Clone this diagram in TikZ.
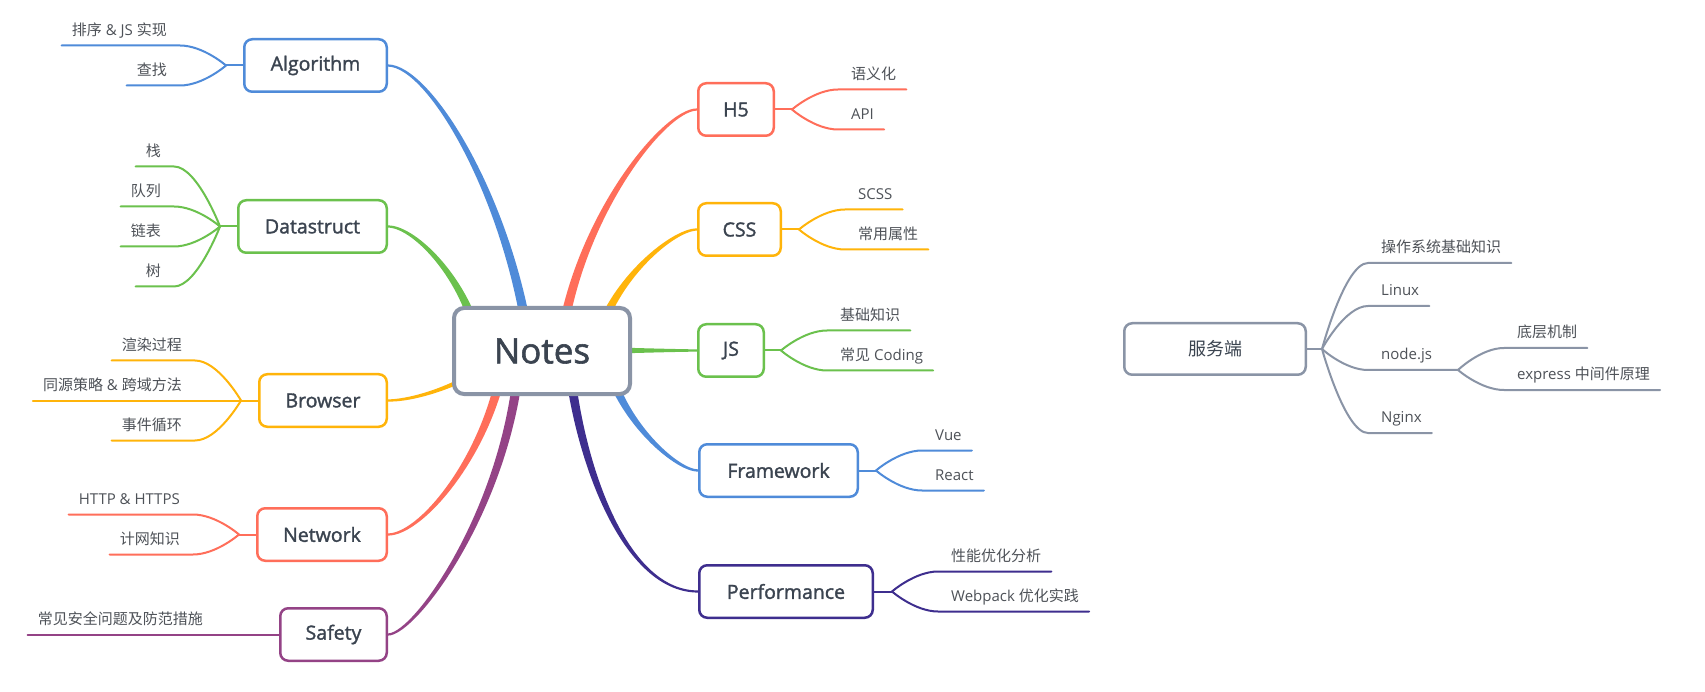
\documentclass[tikz,border=0pt]{standalone}
\usepackage{fontspec}
\setmainfont{Open Sans}
\newfontfamily\zh{Noto Sans CJK SC}
\newfontfamily\semib{Open Sans}[FakeBold=1.6]
\usetikzlibrary{calc}
\pgfdeclarelayer{back}
\pgfdeclarelayer{bg}
\pgfsetlayers{back,bg,main}
\definecolor{cblue}{HTML}{4F8BD9}
\definecolor{cgreen}{HTML}{6BC14D}
\definecolor{corange}{HTML}{FFB40A}
\definecolor{cred}{HTML}{FF6E5A}
\definecolor{cpurple}{HTML}{944386}
\definecolor{cindigo}{HTML}{3E2E8E}
\definecolor{cgray}{HTML}{8A94A6}
\definecolor{textdark}{HTML}{3B4450}
\definecolor{textleaf}{HTML}{4E5258}
\tikzset{
  topic/.style={draw, rounded corners=8pt, line width=2.5pt, fill=white,
    minimum height=52.5pt, inner sep=0pt, text=textdark,
    font=\semib\fontsize{19.5}{23}\selectfont},
  leaf/.style={text=textleaf, font=\fontsize{15}{18}\selectfont,
    inner xsep=10pt, inner ysep=7pt, text height=11pt, text depth=3pt},
  leafline/.style={line width=2pt, line cap=round},
}
% tapered main connector: colour, child anchor, control 1, control 2, root point
\newcommand{\mainbranch}[5]{%
  \begin{pgfonlayer}{bg}
  \fill[#1]
    ($(#2)!1.1pt!-90:(#3)$) .. controls ($(#3)!2pt!-90:(#4)$) and ($(#4)!3.8pt!-90:(#5)$)
    .. ($(#5)!5pt!90:(#4)$)
    -- ($(#5)!5pt!-90:(#4)$) .. controls ($(#4)!3.8pt!90:(#5)$) and ($(#3)!2pt!90:(#4)$)
    .. ($(#2)!1.1pt!90:(#3)$) -- cycle;
  \end{pgfonlayer}}
% left leaf: name, junction, colour, x of curve end, y of line, text
\newcommand{\lfL}[6]{%
  \coordinate (#1L) at (#4,#5);
  \node[leaf, anchor=south east] (#1) at ($(#1L)+(-3,0)$) {#6};
  \begin{pgfonlayer}{bg}
  \draw[leafline,#3] (#2) .. controls (#2) and ($(#1L)+(23,0)$) .. (#1L) -- (#1.south west);
  \end{pgfonlayer}}
% right leaf
\newcommand{\lfR}[6]{%
  \coordinate (#1L) at (#4,#5);
  \node[leaf, anchor=south west] (#1) at ($(#1L)+(3,0)$) {#6};
  \begin{pgfonlayer}{bg}
  \draw[leafline,#3] (#2) .. controls (#2) and ($(#1L)+(-23,0)$) .. (#1L) -- (#1.south east);
  \end{pgfonlayer}}
\begin{document}
\begin{tikzpicture}[x=1pt,y=-1pt]
\begin{pgfonlayer}{back}
\path[use as bounding box, fill=white] (0,0) rectangle (1705,692);
\end{pgfonlayer}

% ---- root and main topics
\node[draw=cgray, line width=4pt, rounded corners=10pt, fill=white,
  minimum width=176pt, minimum height=86pt, text=textdark,
  font=\semib\fontsize{35}{40}\selectfont] (notes) at (542,351) {Notes};

\node[topic, draw=cblue,   minimum width=142.5pt] (algo)      at (315.5,65.5) {Algorithm};
\node[topic, draw=cgreen,  minimum width=148.5pt] (data)      at (312.5,226.5) {Datastruct};
\node[topic, draw=corange, minimum width=127.5pt] (browser)   at (323,400.5) {Browser};
\node[topic, draw=cred,    minimum width=129.5pt] (network)   at (322,534.5) {Network};
\node[topic, draw=cpurple, minimum width=106.5pt] (safety)    at (333.5,634.5) {Safety};
\node[topic, draw=cred,    minimum width=75.5pt]  (h5)        at (736,109.5) {H5};
\node[topic, draw=corange, minimum width=82.5pt]  (css)       at (739.5,229.5) {CSS};
\node[topic, draw=cgreen,  minimum width=65.5pt]  (js)        at (731,350.5) {JS};
\node[topic, draw=cblue,   minimum width=158.5pt] (framework) at (778.5,470.5) {Framework};
\node[topic, draw=cindigo, minimum width=173.5pt] (perf)      at (786,591.5) {Performance};

\node[draw=cgray, line width=2.5pt, rounded corners=8pt, fill=white,
  minimum width=181.5pt, minimum height=51.5pt, text=textdark,
  font=\zh\fontsize{18}{22}\selectfont] (server) at (1215,349) {服务端};

% ---- main connectors
\mainbranch{cblue}{algo.east}{430,66}{510,200}{530,351}
\mainbranch{cgreen}{data.east}{416,226.5}{471,285}{480,351}
\mainbranch{corange}{browser.east}{428,400.5}{507,367}{520,330}
\mainbranch{cred}{network.east}{423,534.5}{493,448}{505,351}
\mainbranch{cpurple}{safety.east}{416,634.5}{511,502}{520,351}
\mainbranch{cred}{h5.west}{663,109.5}{574,223}{560,351}
\mainbranch{corange}{css.west}{671,229.5}{605,287}{595,351}
\mainbranch{cgreen}{js.west}{640,350.5}{600,350.5}{542,350.5}
\mainbranch{cblue}{framework.west}{675,470.5}{614,415}{605,351}
\mainbranch{cindigo}{perf.west}{620,591.5}{575,447}{568,351}

% ---- junctions
\coordinate (jA) at (226,65.5);
\coordinate (jD) at (220,226.5);
\coordinate (jB) at (241,400.5);
\coordinate (jN) at (239,534.5);
\coordinate (jS) at (262,634.5);
\coordinate (jH) at (792,109.5);
\coordinate (jC) at (799,229.5);
\coordinate (jJ) at (781,350.5);
\coordinate (jF) at (876,470.5);
\coordinate (jP) at (892,591.5);
\coordinate (jV) at (1322,349);
\coordinate (jQ) at (1458,370);

\begin{pgfonlayer}{bg}
\draw[leafline,cblue] (algo.west) -- (jA);
\draw[leafline,cgreen] (data.west) -- (jD);
\draw[leafline,corange] (browser.west) -- (jB);
\draw[leafline,cred] (network.west) -- (jN);
\draw[leafline,cpurple] (safety.west) -- (jS);
\draw[leafline,cred] (h5.east) -- (jH);
\draw[leafline,corange] (css.east) -- (jC);
\draw[leafline,cgreen] (js.east) -- (jJ);
\draw[leafline,cblue] (framework.east) -- (jF);
\draw[leafline,cindigo] (perf.east) -- (jP);
\draw[leafline,cgray] (server.east) -- (jV);
\end{pgfonlayer}

% ---- left leaves
\lfL{a1}{jA}{cblue}{180}{45.5}{{\zh 排序} \& JS {\zh 实现}}
\lfL{a2}{jA}{cblue}{180}{85.5}{\zh 查找}

\lfL{d1}{jD}{cgreen}{174}{166.5}{\zh 栈}
\lfL{d2}{jD}{cgreen}{174}{206.5}{\zh 队列}
\lfL{d3}{jD}{cgreen}{174}{246.5}{\zh 链表}
\lfL{d4}{jD}{cgreen}{174}{286.5}{\zh 树}

\lfL{b1}{jB}{corange}{195}{360.5}{\zh 渲染过程}
\lfL{b2}{jB}{corange}{195}{400.5}{{\zh 同源策略} \& {\zh 跨域方法}}
\lfL{b3}{jB}{corange}{195}{440.5}{\zh 事件循环}

\lfL{n1}{jN}{cred}{193}{514.5}{HTTP \& HTTPS}
\lfL{n2}{jN}{cred}{193}{554.5}{\zh 计网知识}

\lfL{s1}{jS}{cpurple}{216}{634.5}{\zh 常见安全问题及防范措施}

% ---- right leaves
\lfR{h1}{jH}{cred}{838}{89.5}{\zh 语义化}
\lfR{h2}{jH}{cred}{838}{129.5}{API}

\lfR{c1}{jC}{corange}{845}{209.5}{SCSS}
\lfR{c2}{jC}{corange}{845}{249.5}{\zh 常用属性}

\lfR{j1}{jJ}{cgreen}{827}{330.5}{\zh 基础知识}
\lfR{j2}{jJ}{cgreen}{827}{370.5}{{\zh 常见} Coding}

\lfR{f1}{jF}{cblue}{922}{450.5}{Vue}
\lfR{f2}{jF}{cblue}{922}{490.5}{React}

\lfR{p1}{jP}{cindigo}{938}{571.5}{\zh 性能优化分析}
\lfR{p2}{jP}{cindigo}{938}{611.5}{Webpack {\zh 优化实践}}

% ---- server subtree
\lfR{v1}{jV}{cgray}{1368}{263}{\zh 操作系统基础知识}
\lfR{v2}{jV}{cgray}{1368}{306}{Linux}
\coordinate (v3L) at (1368,370);
\node[leaf, anchor=south west] (v3) at ($(v3L)+(3,0)$) {node.js};
\begin{pgfonlayer}{bg}
\draw[leafline,cgray] (jV) .. controls (jV) and ($(v3L)+(-23,0)$) .. (v3L) -- (jQ);
\end{pgfonlayer}
\lfR{v4}{jV}{cgray}{1368}{433}{Nginx}

\lfR{q1}{jQ}{cgray}{1504}{348}{\zh 底层机制}
\lfR{q2}{jQ}{cgray}{1504}{390}{express {\zh 中间件原理}}

\end{tikzpicture}
\end{document}
